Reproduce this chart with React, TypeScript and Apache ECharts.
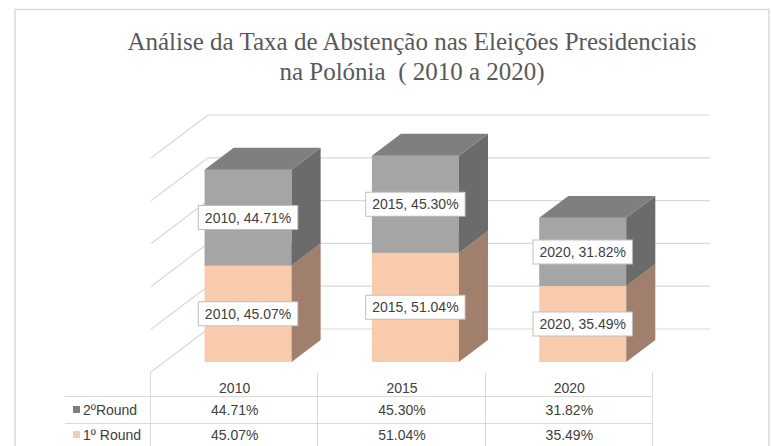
import React, { useEffect, useRef } from 'react';
import * as echarts from 'echarts';

const years = ['2010', '2015', '2020'];
const round1 = [45.07, 51.04, 35.49];
const round2 = [44.71, 45.3, 31.82];
const rowNames = ['2ºRound', '1º Round'];
const yTicks = [0, 20, 40, 60, 80, 100];
const titleText = 'Análise da Taxa de Abstenção nas Eleições Presidenciais\nna Polónia  ( 2010 a 2020)';

const DX = 57;
const DY = -43;
const F1 = 0.235;
const F2 = 0.745;
const FONT = '"Liberation Sans", Arial, sans-serif';
const TXT = '#404040';
const GRID = '#D9D9D9';

const colors1 = { front: '#F8CBAD', side: '#A0806D', top: '#C9A48C' };
const colors2 = { front: '#A5A5A5', side: '#6B6B6B', top: '#7F7F7F' };
const keyColors = ['#7F7F7F', '#F8CBAD'];

function makeBar(c: { front: string; side: string; top: string }) {
  return (params: any, api: any) => {
    const idx = api.value(0);
    const lo = api.value(1);
    const hi = api.value(2);
    const val = api.value(3);
    const cx = api.coord([idx, 0])[0];
    const yLo = api.coord([idx, lo])[1];
    const yHi = api.coord([idx, hi])[1];
    const w = api.size([1, 0])[0] * 0.52;
    const ox = F1 * DX;
    const oy = F1 * DY;
    const x0 = cx - w / 2 + ox;
    const x1 = cx + w / 2 + ox;
    const yL = yLo + oy;
    const yH = yHi + oy;
    const bdx = (F2 - F1) * DX;
    const bdy = (F2 - F1) * DY;
    return {
      type: 'group',
      children: [
        { type: 'rect', shape: { x: x0, y: yH, width: w, height: yL - yH }, style: { fill: c.front } },
        {
          type: 'polygon',
          shape: { points: [[x1, yH], [x1 + bdx, yH + bdy], [x1 + bdx, yL + bdy], [x1, yL]] },
          style: { fill: c.side },
        },
        {
          type: 'polygon',
          shape: { points: [[x0, yH], [x0 + bdx, yH + bdy], [x1 + bdx, yH + bdy], [x1, yH]] },
          style: { fill: c.top },
        },
        {
          type: 'text',
          x: cx + ox,
          y: (yL + yH) / 2,
          style: {
            text: `${years[idx]}, ${val.toFixed(2)}%`,
            align: 'center',
            verticalAlign: 'middle',
            fill: TXT,
            fontSize: 14,
            fontFamily: FONT,
            backgroundColor: '#FFFFFF',
            borderColor: '#BFBFBF',
            borderWidth: 1,
            padding: [5, 6, 4, 6],
          },
        },
      ],
    };
  };
}

export default function App() {
  const ref = useRef<HTMLDivElement>(null);
  useEffect(() => {
    if (!ref.current) return;
    const chart = echarts.init(ref.current, undefined, { renderer: 'svg' });
    const tableRows = [round2, round1];
    const tableData: number[][] = [];
    tableRows.forEach((row, r) => row.forEach((v, i) => tableData.push([i, r, v])));

    const hLines = [396.5, 423.5, 449.5].map((y) => ({
      type: 'line',
      shape: { x1: 65, y1: y, x2: 653, y2: y },
      style: { stroke: GRID, lineWidth: 1 },
    }));
    const vLines = [151, 318.3, 485.7, 653].map((x) => ({
      type: 'line',
      shape: { x1: Math.round(x) - 0.5, y1: 372, x2: Math.round(x) - 0.5, y2: 460 },
      style: { stroke: GRID, lineWidth: 1 },
    }));
    const rowHeads: any[] = [];
    rowNames.forEach((name, r) => {
      const cy = 409.5 + r * 25;
      rowHeads.push({
        type: 'rect',
        shape: { x: 73, y: cy - 3.5, width: 7, height: 7 },
        style: { fill: keyColors[r] },
      });
      rowHeads.push({
        type: 'text',
        x: 83,
        y: cy,
        style: { text: name, fill: TXT, fontSize: 14, fontFamily: FONT, verticalAlign: 'middle', align: 'left' },
      });
    });

    chart.setOption({
      animation: false,
      backgroundColor: '#FFFFFF',
      grid: [
        { left: 151, right: 118, top: 158, bottom: 74 },
        { left: 208, right: 61, top: 115, bottom: 117 },
      ],
      xAxis: [
        {
          gridIndex: 0,
          type: 'category',
          data: years,
          axisLine: { show: false },
          axisTick: { show: false },
          splitLine: { show: false },
          axisLabel: { color: TXT, fontSize: 14, fontFamily: FONT, margin: 9 },
        },
        { gridIndex: 1, type: 'value', min: 0, max: 1, show: false },
      ],
      yAxis: [
        { gridIndex: 0, type: 'value', min: 0, max: 100, interval: 20, show: false },
        { gridIndex: 1, type: 'value', min: 0, max: 100, interval: 20, show: false },
      ],
      graphic: [
        {
          type: 'rect',
          shape: { x: 15, y: 9.5, width: 754, height: 460 },
          style: { fill: 'none', stroke: GRID, lineWidth: 1.5 },
          z: 100,
        },
        {
          type: 'text',
          x: 412,
          y: 56,
          style: {
            text: titleText,
            align: 'center',
            verticalAlign: 'middle',
            fill: '#595959',
            fontSize: 25,
            lineHeight: 30,
            fontFamily: '"Liberation Serif", "Times New Roman", serif',
          },
        },
        ...hLines,
        ...vLines,
        ...rowHeads,
      ],
      series: [
        {
          type: 'custom',
          xAxisIndex: 1,
          yAxisIndex: 1,
          data: yTicks.map((v) => [0, v]),
          renderItem: (params: any, api: any) => {
            const v = api.value(1);
            const p0 = api.coord([0, v]);
            const p1 = api.coord([1, v]);
            return {
              type: 'group',
              children: [
                { type: 'line', shape: { x1: p0[0], y1: p0[1], x2: p1[0], y2: p1[1] }, style: { stroke: GRID, lineWidth: 1.2 } },
                { type: 'line', shape: { x1: p0[0], y1: p0[1], x2: p0[0] - DX, y2: p0[1] - DY }, style: { stroke: GRID, lineWidth: 1.2 } },
              ],
            };
          },
          silent: true,
        },
        {
          type: 'custom',
          name: rowNames[1],
          xAxisIndex: 0,
          yAxisIndex: 0,
          data: years.map((_, i) => [i, 0, round1[i], round1[i]]),
          renderItem: makeBar(colors1),
        },
        {
          type: 'custom',
          name: rowNames[0],
          xAxisIndex: 0,
          yAxisIndex: 0,
          data: years.map((_, i) => [i, round1[i], round1[i] + round2[i], round2[i]]),
          renderItem: makeBar(colors2),
        },
        {
          type: 'custom',
          xAxisIndex: 0,
          yAxisIndex: 0,
          data: tableData,
          renderItem: (params: any, api: any) => {
            const i = api.value(0);
            const r = api.value(1);
            const v = api.value(2);
            const p = api.coord([i, 0]);
            return {
              type: 'text',
              x: p[0],
              y: p[1] + 37.5 + r * 25,
              style: {
                text: `${v.toFixed(2)}%`,
                align: 'center',
                verticalAlign: 'middle',
                fill: TXT,
                fontSize: 14,
                fontFamily: FONT,
              },
            };
          },
        },
      ],
    });
    return () => chart.dispose();
  }, []);
  return <div ref={ref} style={{ position: 'absolute', left: 0, top: 0, width: 771, height: 446 }} />;
}
